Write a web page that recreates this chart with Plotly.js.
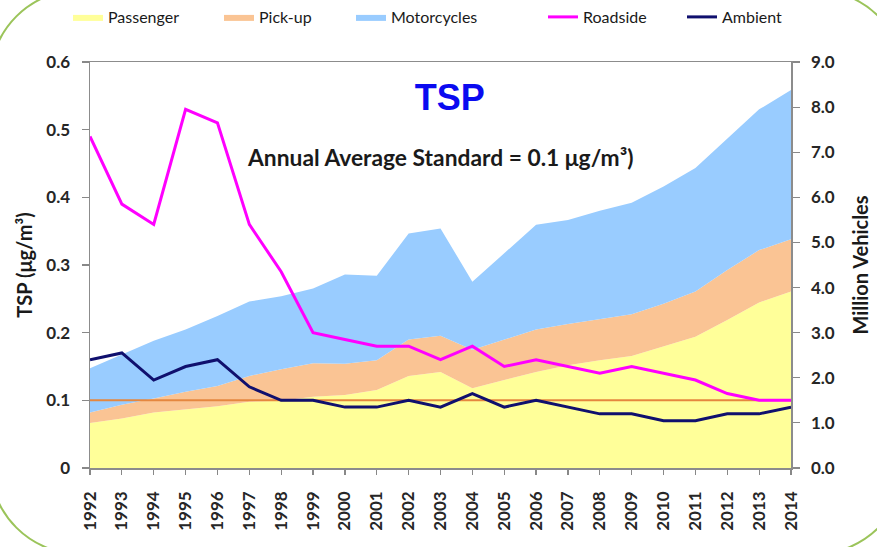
<!DOCTYPE html>
<html>
<head>
<meta charset="utf-8">
<script src="https://cdn.plot.ly/plotly-3.0.1.min.js"></script>
<style>html,body{margin:0;padding:0;background:#fff;}#chart{width:877px;height:547px;}</style>
</head>
<body>
<div id="chart"></div>
<script>
// ---- data ----
const years = [1992,1993,1994,1995,1996,1997,1998,1999,2000,2001,2002,2003,2004,2005,2006,2007,2008,2009,2010,2011,2012,2013,2014];
// million vehicles (stacked areas, right axis)
const passenger   = [1.00,1.10,1.23,1.30,1.37,1.47,1.49,1.58,1.62,1.73,2.04,2.13,1.77,1.95,2.13,2.28,2.39,2.48,2.69,2.91,3.28,3.67,3.91];
const pickup      = [0.23,0.30,0.31,0.39,0.45,0.57,0.70,0.74,0.69,0.66,0.81,0.80,0.85,0.89,0.94,0.91,0.91,0.93,0.95,1.00,1.11,1.16,1.16];
const motorcycles = [0.98,1.11,1.28,1.38,1.55,1.65,1.62,1.66,1.98,1.87,2.35,2.38,1.51,1.92,2.32,2.31,2.40,2.47,2.60,2.74,2.92,3.12,3.31];
// TSP (ug/m3, left axis)
const roadside = [0.49,0.39,0.36,0.53,0.51,0.36,0.29,0.20,0.19,0.18,0.18,0.16,0.18,0.15,0.16,0.15,0.14,0.15,0.14,0.13,0.11,0.10,0.10];
const ambient  = [0.16,0.17,0.13,0.15,0.16,0.12,0.10,0.10,0.09,0.09,0.10,0.09,0.11,0.09,0.10,0.09,0.08,0.08,0.07,0.07,0.08,0.08,0.09];
const standard = 0.1;
const seriesNames = ['Passenger','Pick-up','Motorcycles','Roadside','Ambient'];

// ---- layout helpers (pixel -> paper) ----
const W = 877, H = 547;
const M = {l: 90, r: 86, t: 62, b: 79, autoexpand: false};
const PW = W - M.l - M.r, PH = H - M.t - M.b;
const px = x => (x - M.l) / PW;
const py = y => (H - M.b - y) / PH;

const tickFont = {family: 'Lato, "Open Sans", sans-serif', size: 17, color: '#262626', weight: 700};
const legFont = {family: 'Lato, "Open Sans", sans-serif', size: 16, color: '#1a1a1a'};

const traces = [
  {x: years, y: passenger, name: seriesNames[0], type: 'scatter', mode: 'lines', stackgroup: 'veh',
   line: {width: 0}, fillcolor: '#FFFF99', yaxis: 'y', legend: 'legend'},
  {x: years, y: pickup, name: seriesNames[1], type: 'scatter', mode: 'lines', stackgroup: 'veh',
   line: {width: 0}, fillcolor: '#FAC494', yaxis: 'y', legend: 'legend2'},
  {x: years, y: motorcycles, name: seriesNames[2], type: 'scatter', mode: 'lines', stackgroup: 'veh',
   line: {width: 0}, fillcolor: '#99CCFF', yaxis: 'y', legend: 'legend3'},
  {x: [years[0], years[years.length-1]], y: [standard, standard], name: 'Standard', type: 'scatter', mode: 'lines',
   line: {color: '#E5873F', width: 2}, yaxis: 'y2', showlegend: false},
  {x: years, y: roadside, name: seriesNames[3], type: 'scatter', mode: 'lines',
   line: {color: '#FF00FF', width: 3}, yaxis: 'y2', legend: 'legend4'},
  {x: years, y: ambient, name: seriesNames[4], type: 'scatter', mode: 'lines',
   line: {color: '#10106E', width: 3}, yaxis: 'y2', legend: 'legend5'}
];

function leg(textPx) {
  return {x: px(textPx - 41), y: py(17), xanchor: 'left', yanchor: 'middle', orientation: 'h',
          bgcolor: 'rgba(0,0,0,0)', borderwidth: 0, font: legFont};
}

// decorative rounded frame (green)
const L = -10, R = 905, T = -10, B = 554, r = 90, k = 0.5523 * r;
const pts = (a, b) => px(a) + ',' + py(b);
const framePath = 'M' + pts(L, T + r) +
  ' C' + pts(L, T + r - k) + ' ' + pts(L + r - k, T) + ' ' + pts(L + r, T) +
  ' L' + pts(R - r, T) +
  ' C' + pts(R - r + k, T) + ' ' + pts(R, T + r - k) + ' ' + pts(R, T + r) +
  ' L' + pts(R, B - r) +
  ' C' + pts(R, B - r + k) + ' ' + pts(R - r + k, B) + ' ' + pts(R - r, B) +
  ' L' + pts(L + r, B) +
  ' C' + pts(L + r - k, B) + ' ' + pts(L, B - r + k) + ' ' + pts(L, B - r) + ' Z';

const titleFont = {family: 'Lato, "Open Sans", sans-serif', size: 20, color: '#1a1a1a', weight: 700};

const layout = {
  width: W, height: H,
  margin: M,
  paper_bgcolor: '#ffffff', plot_bgcolor: '#ffffff',
  title: {text: 'TSP', font: {family: '"Liberation Sans", Arial, sans-serif', size: 36, color: '#0A0AF0', weight: 700},
          x: 450 / W, xanchor: 'center', xref: 'paper', y: 1 - 97 / H, yanchor: 'middle'},
  xaxis: {range: [years[0], years[years.length-1]], tickmode: 'array', tickvals: years, ticktext: years.map(String),
          tickangle: -90, ticks: 'outside', ticklen: 5, tickcolor: '#888', tickwidth: 1.2,
          showline: true, linecolor: '#8c8c8c', linewidth: 1.5, mirror: true,
          showgrid: false, zeroline: false, tickfont: tickFont, ticklabelstandoff: 10, fixedrange: true},
  yaxis: {range: [0, 9], dtick: 1, tick0: 0, tickformat: '.1f', side: 'right',
          ticks: 'outside', ticklen: 7, tickcolor: '#888', tickwidth: 1.2,
          showline: true, linecolor: '#8c8c8c', linewidth: 1.5, showgrid: false, zeroline: false,
          tickfont: tickFont, ticklabelstandoff: 8,
          title: {text: 'Million Vehicles', font: titleFont, standoff: 20}},
  yaxis2: {range: [0, 0.6], dtick: 0.1, tick0: 0, overlaying: 'y', side: 'left',
          ticks: 'outside', ticklen: 7, tickcolor: '#888', tickwidth: 1.2,
          showline: true, linecolor: '#8c8c8c', linewidth: 1.5, showgrid: false, zeroline: false,
          tickfont: tickFont, ticklabelstandoff: 8,
          title: {text: 'TSP (μg/m³)', font: titleFont, standoff: 8}},
  legend: leg(109), legend2: leg(260), legend3: leg(392), legend4: leg(584), legend5: leg(723),
  annotations: [
    {text: 'Annual Average Standard = 0.1 μg/m³)', xref: 'paper', yref: 'paper', x: px(441), y: py(157),
     xanchor: 'center', yanchor: 'middle', showarrow: false,
     font: {family: 'Lato, "Open Sans", sans-serif', size: 22.8, color: '#1a1a1a', weight: 700}}
  ],
  shapes: [
    {type: 'path', xref: 'paper', yref: 'paper', path: framePath, line: {color: '#9BC45A', width: 2}, fillcolor: 'rgba(0,0,0,0)', layer: 'above'}
  ],
  showlegend: true,
  hovermode: false
};

Plotly.newPlot('chart', traces, layout, {displayModeBar: false, staticPlot: true});
</script>
</body>
</html>
